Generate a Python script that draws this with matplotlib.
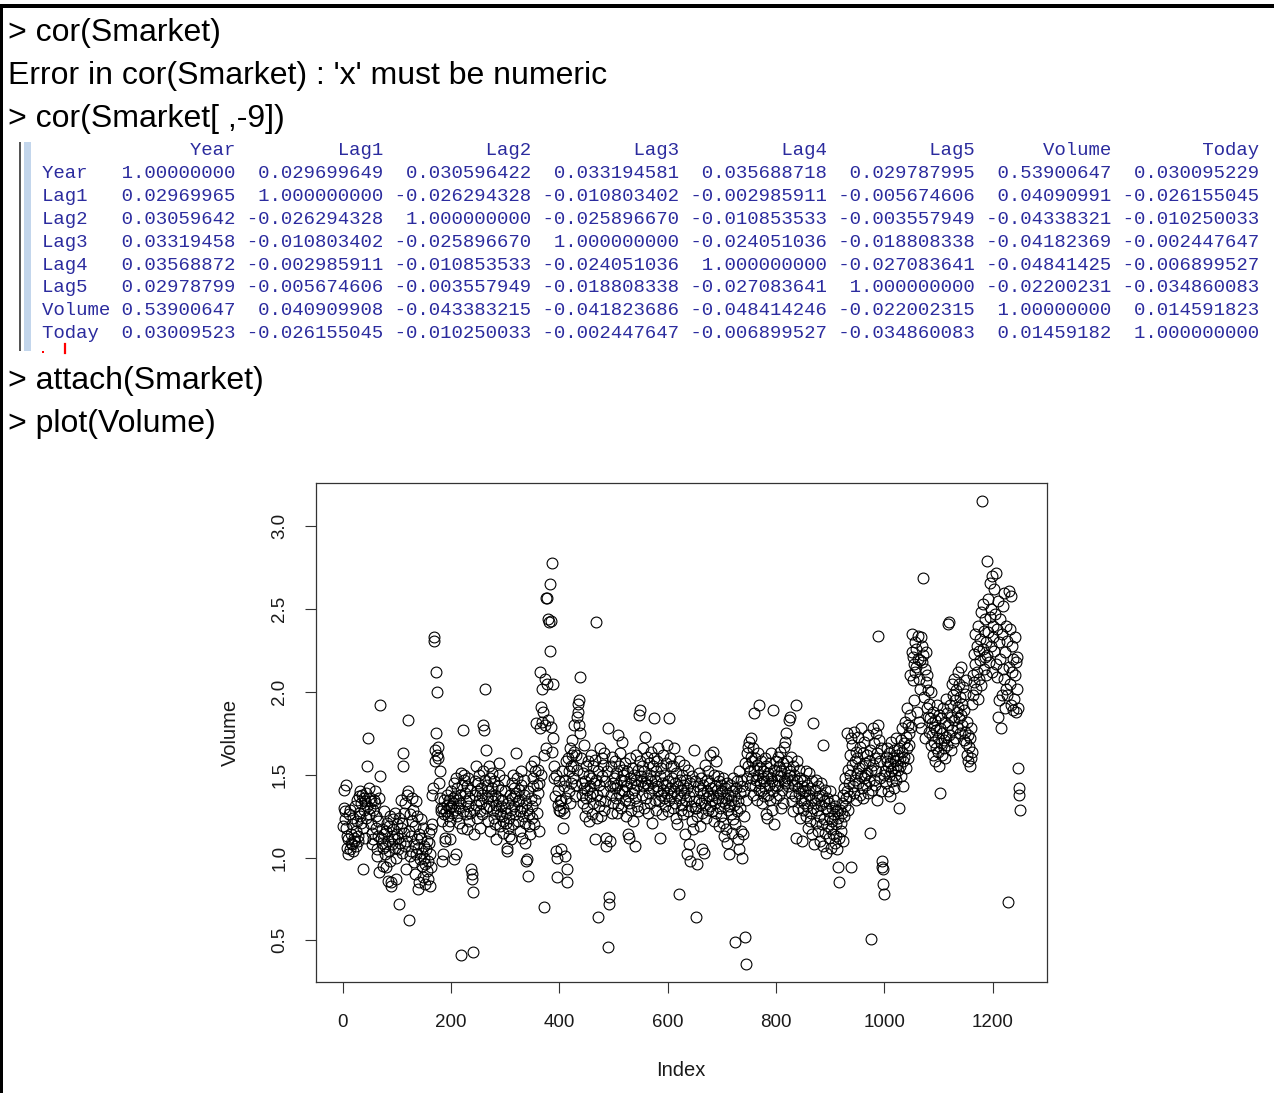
import numpy as np
import matplotlib
matplotlib.use("Agg")
import matplotlib.pyplot as plt
from matplotlib.patches import Rectangle
from matplotlib.lines import Line2D

# ---------------- data ----------------
console_lines_top = ["> cor(Smarket)",
                     "Error in cor(Smarket) : 'x' must be numeric",
                     "> cor(Smarket[ ,-9])"]
console_lines_bottom = ["> attach(Smarket)", "> plot(Volume)"]

var_names = ["Year", "Lag1", "Lag2", "Lag3", "Lag4", "Lag5", "Volume", "Today"]
cor_year   = [1.00000000, 0.029699649, 0.030596422, 0.033194581, 0.035688718, 0.029787995, 0.53900647, 0.030095229]
cor_lag1   = [0.02969965, 1.000000000, -0.026294328, -0.010803402, -0.002985911, -0.005674606, 0.04090991, -0.026155045]
cor_lag2   = [0.03059642, -0.026294328, 1.000000000, -0.025896670, -0.010853533, -0.003557949, -0.04338321, -0.010250033]
cor_lag3   = [0.03319458, -0.010803402, -0.025896670, 1.000000000, -0.024051036, -0.018808338, -0.04182369, -0.002447647]
cor_lag4   = [0.03568872, -0.002985911, -0.010853533, -0.024051036, 1.000000000, -0.027083641, -0.04841425, -0.006899527]
cor_lag5   = [0.02978799, -0.005674606, -0.003557949, -0.018808338, -0.027083641, 1.000000000, -0.02200231, -0.034860083]
cor_volume = [0.53900647, 0.040909908, -0.043383215, -0.041823686, -0.048414246, -0.022002315, 1.00000000, 0.014591823]
cor_today  = [0.03009523, -0.026155045, -0.010250033, -0.002447647, -0.006899527, -0.034860083, 0.01459182, 1.000000000]
cor_rows = [cor_year, cor_lag1, cor_lag2, cor_lag3, cor_lag4, cor_lag5, cor_volume, cor_today]

volume = [
1.19, 1.30, 1.41, 1.28, 1.23, 1.44, 1.18, 1.13, 1.06, 1.02, 1.11, 1.26, 1.29, 1.05, 1.09, 1.14, 1.08, 1.20, 1.24, 1.04, 1.10, 1.12, 1.31, 1.16, 1.07,
1.22, 1.35, 1.13, 1.10, 1.27, 1.37, 1.40, 1.25, 1.21, 1.33, 1.38, 1.18, 0.93, 1.29, 1.36, 1.34, 1.12, 1.24, 1.39, 1.55, 1.31, 1.72, 1.26, 1.42, 1.36,
1.30, 1.34, 1.20, 1.15, 1.08, 1.11, 1.29, 1.35, 1.33, 1.40, 1.25, 1.18, 1.05, 1.01, 1.22, 1.13, 0.91, 1.36, 1.49, 1.92, 1.12, 1.09, 1.17, 1.06, 0.95,
1.14, 1.28, 1.07, 1.02, 0.94, 1.16, 1.21, 1.10, 0.86, 1.19, 1.04, 1.25, 0.98, 0.83, 0.85, 1.13, 1.08, 1.23, 1.17, 1.11, 1.27, 1.06, 0.87, 1.00, 1.14,
1.20, 1.05, 1.12, 1.24, 0.72, 1.09, 1.18, 1.35, 1.03, 1.21, 1.63, 1.55, 1.27, 1.15, 1.33, 1.07, 0.93, 1.10, 1.38, 1.83, 1.40, 0.62, 1.16, 1.26, 1.01,
1.04, 1.13, 1.22, 1.36, 1.29, 0.97, 1.08, 1.19, 0.90, 1.02, 1.34, 1.11, 1.25, 1.06, 0.81, 1.14, 0.85, 0.99, 1.23, 1.12, 0.95, 1.03, 1.18, 0.88, 1.07,
1.00, 0.84, 0.96, 1.05, 1.10, 0.92, 0.98, 0.87, 1.09, 1.15, 0.83, 1.02, 0.94, 1.17, 1.20, 1.38, 1.42, 2.33, 2.31, 1.65, 1.58, 1.75, 2.12, 2.00, 1.62,
1.60, 1.67, 1.45, 1.52, 1.36, 1.28, 1.30, 1.22, 0.98, 1.02, 1.30, 1.35, 1.26, 1.12, 1.10, 1.28, 1.32, 1.38, 1.25, 1.19, 1.30, 1.35, 1.22, 1.11, 1.31,
1.40, 1.27, 1.36, 1.33, 1.45, 0.99, 1.29, 1.37, 1.02, 1.48, 1.25, 1.42, 1.35, 1.30, 1.21, 1.38, 1.33, 0.41, 1.51, 1.18, 1.44, 1.28, 1.77, 1.47, 1.50,
1.39, 1.26, 1.34, 1.43, 1.17, 1.31, 1.48, 1.22, 1.36, 1.41, 1.27, 0.93, 0.90, 0.87, 0.43, 0.79, 1.14, 1.29, 1.46, 1.38, 1.55, 1.32, 1.24, 1.40, 1.45,
1.35, 1.50, 1.28, 1.18, 1.33, 1.42, 1.26, 1.38, 1.80, 1.52, 1.77, 2.02, 1.47, 1.30, 1.65, 1.44, 1.36, 1.22, 1.40, 1.31, 1.55, 1.48, 1.16, 1.37, 1.42,
1.51, 1.29, 1.34, 1.24, 1.46, 1.38, 1.20, 1.32, 1.11, 1.28, 1.43, 1.36, 1.57, 1.50, 1.26, 1.19, 1.41, 1.31, 1.25, 1.35, 1.22, 1.15, 1.47, 1.30, 1.40,
1.27, 1.21, 1.06, 1.04, 1.18, 1.33, 1.24, 1.13, 1.38, 1.29, 1.11, 1.45, 1.36, 1.20, 1.50, 1.31, 1.42, 1.37, 1.26, 1.63, 1.39, 1.48, 1.34, 1.22, 1.41,
1.35, 1.16, 1.28, 1.44, 1.52, 1.30, 1.12, 1.25, 1.38, 1.47, 1.09, 1.21, 1.33, 0.98, 0.99, 1.29, 0.89, 1.40, 1.19, 1.26, 1.14, 1.55, 1.36, 1.24, 1.31,
1.48, 1.43, 1.20, 1.58, 1.35, 1.52, 1.81, 1.27, 1.44, 1.39, 1.53, 1.16, 1.45, 1.78, 2.12, 1.50, 1.91, 2.02, 1.82, 1.88, 0.70, 1.62, 2.08, 1.80, 1.66,
2.57, 2.57, 2.05, 1.83, 2.44, 2.42, 2.25, 2.65, 1.79, 2.43, 2.78, 1.64, 2.05, 1.72, 1.55, 1.48, 1.37, 1.50, 1.04, 1.00, 0.88, 1.41, 1.32, 1.29, 1.46,
1.34, 1.28, 1.05, 1.35, 1.52, 1.18, 1.30, 1.43, 1.27, 1.01, 1.47, 1.58, 1.36, 0.93, 0.85, 1.60, 1.52, 1.40, 1.66, 1.33, 1.45, 1.55, 1.62, 1.71, 1.48,
1.55, 1.64, 1.80, 1.37, 1.62, 1.44, 1.53, 1.85, 1.88, 1.93, 1.80, 1.95, 2.09, 1.75, 1.60, 1.45, 1.38, 1.51, 1.33, 1.42, 1.68, 1.25, 1.46, 1.55, 1.36,
1.41, 1.30, 1.58, 1.22, 1.50, 1.37, 1.43, 1.62, 1.48, 1.26, 1.39, 1.55, 1.33, 1.45, 1.11, 1.59, 1.47, 2.42, 1.38, 1.24, 1.52, 0.64, 1.44, 1.31, 1.66,
1.35, 1.25, 1.60, 1.49, 1.56, 1.40, 1.29, 1.63, 1.46, 1.34, 1.12, 1.07, 1.52, 1.78, 0.46, 0.72, 0.76, 1.10, 1.43, 1.38, 1.55, 1.27, 1.61, 1.45, 1.33,
1.48, 1.58, 1.42, 1.36, 1.51, 1.27, 1.44, 1.32, 1.74, 1.39, 1.55, 1.63, 1.47, 1.30, 1.41, 1.70, 1.53, 1.50, 1.40, 1.46, 1.35, 1.57, 1.25, 1.43, 1.52,
1.37, 1.14, 1.12, 1.33, 1.48, 1.60, 1.29, 1.45, 1.39, 1.54, 1.22, 1.50, 1.41, 1.07, 1.36, 1.62, 1.47, 1.31, 1.44, 1.53, 1.28, 1.86, 1.58, 1.89, 1.46,
1.49, 1.38, 1.55, 1.66, 1.43, 1.30, 1.52, 1.45, 1.73, 1.36, 1.61, 1.48, 1.27, 1.44, 1.57, 1.39, 1.50, 1.33, 1.64, 1.46, 1.21, 1.42, 1.55, 1.84, 1.60,
1.47, 1.35, 1.52, 1.29, 1.43, 1.58, 1.40, 1.66, 1.34, 1.49, 1.12, 1.38, 1.54, 1.45, 1.26, 1.62, 1.41, 1.50, 1.36, 1.31, 1.57, 1.44, 1.39, 1.68, 1.28,
1.46, 1.84, 1.35, 1.42, 1.60, 1.37, 1.55, 1.48, 1.30, 1.55, 1.40, 1.66, 1.33, 1.45, 1.24, 1.51, 1.38, 1.20, 1.43, 0.78, 1.58, 1.36, 1.47, 1.29, 1.41,
1.32, 1.50, 1.44, 1.26, 1.56, 1.39, 1.14, 1.47, 1.35, 1.02, 1.42, 1.28, 1.53, 1.08, 1.37, 1.45, 0.98, 1.31, 1.49, 1.22, 1.40, 1.17, 1.34, 1.65, 1.30,
1.46, 1.30, 0.64, 0.96, 1.25, 1.43, 1.35, 1.51, 1.19, 1.41, 1.33, 1.48, 1.27, 1.05, 1.39, 1.44, 1.03, 1.32, 1.56, 1.36, 1.24, 1.47, 1.40, 1.29, 1.52,
1.37, 1.45, 1.31, 1.62, 1.42, 1.35, 1.28, 1.64, 1.38, 1.50, 1.22, 1.43, 1.33, 1.58, 1.27, 1.41, 1.36, 1.49, 1.19, 1.46, 1.30, 1.39, 1.25, 1.44, 1.34,
1.40, 1.21, 1.48, 1.13, 1.33, 1.42, 1.17, 1.36, 1.09, 1.45, 1.29, 1.38, 1.02, 1.31, 1.44, 1.26, 1.35, 1.15, 1.40, 1.23, 1.48, 1.32, 1.37, 0.49, 1.20,
1.42, 1.28, 1.46, 1.11, 1.34, 1.52, 1.05, 1.39, 1.30, 1.47, 1.16, 1.43, 1.00, 1.14, 1.25, 1.40, 1.57, 0.52, 0.36, 1.35, 1.63, 1.48, 1.67, 1.55, 1.70,
1.44, 1.52, 1.61, 1.72, 1.48, 1.58, 1.38, 1.66, 1.53, 1.87, 1.43, 1.60, 1.47, 1.56, 1.35, 1.50, 1.63, 1.92, 1.41, 1.54, 1.45, 1.40, 1.58, 1.33, 1.48,
1.52, 1.37, 1.46, 1.60, 1.42, 1.26, 1.55, 1.49, 1.24, 1.38, 1.51, 1.44, 1.57, 1.35, 1.48, 1.63, 1.29, 1.46, 1.40, 1.89, 1.53, 1.20, 1.44, 1.58, 1.36,
1.50, 1.43, 1.61, 1.47, 1.55, 1.38, 1.64, 1.49, 1.30, 1.52, 1.41, 1.57, 1.33, 1.46, 1.67, 1.45, 1.70, 1.54, 1.75, 1.48, 1.58, 1.43, 1.83, 1.50, 1.85,
1.52, 1.39, 1.61, 1.47, 1.34, 1.55, 1.28, 1.44, 1.50, 1.37, 1.92, 1.12, 1.46, 1.58, 1.42, 1.30, 1.53, 1.39, 1.24, 1.48, 1.35, 1.10, 1.43, 1.29, 1.40,
1.47, 1.33, 1.40, 1.36, 1.25, 1.52, 1.44, 1.31, 1.18, 1.38, 1.51, 1.22, 1.42, 1.35, 1.27, 1.46, 1.14, 1.81, 1.30, 1.08, 1.41, 1.33, 1.21, 1.47, 1.36,
1.29, 1.43, 1.16, 1.37, 1.25, 1.10, 1.32, 1.45, 1.20, 1.38, 1.68, 1.07, 1.34, 1.23, 1.41, 1.15, 1.30, 1.03, 1.36, 1.19, 1.28, 1.12, 1.33, 1.24, 1.40,
1.17, 1.06, 1.30, 1.22, 1.14, 1.35, 1.26, 1.09, 1.31, 1.20, 1.13, 1.05, 1.28, 0.94, 1.24, 0.85, 1.12, 1.29, 1.21, 1.16, 1.33, 1.27, 1.10, 1.38, 1.25,
1.42, 1.31, 1.48, 1.36, 1.75, 1.40, 1.53, 1.29, 1.45, 1.37, 1.62, 1.50, 1.72, 0.94, 1.56, 1.68, 1.43, 1.76, 1.39, 1.58, 1.47, 1.64, 1.35, 1.51, 1.60,
1.45, 1.73, 1.54, 1.38, 1.67, 1.49, 1.78, 1.42, 1.55, 1.63, 1.36, 1.70, 1.48, 1.50, 1.57, 1.44, 1.62, 1.51, 1.39, 1.74, 1.46, 1.58, 1.65, 1.15, 0.51,
1.53, 1.41, 1.78, 1.56, 1.47, 1.69, 1.60, 1.44, 1.75, 1.52, 1.63, 1.35, 1.80, 2.34, 1.71, 1.48, 1.58, 1.40, 1.66, 0.98, 0.94, 0.93, 0.84, 0.78, 1.50,
1.52, 1.61, 1.45, 1.58, 1.66, 1.40, 1.55, 1.49, 1.63, 1.37, 1.57, 1.52, 1.70, 1.46, 1.60, 1.54, 1.42, 1.65, 1.58, 1.50, 1.72, 1.47, 1.62, 1.56, 1.53,
1.66, 1.30, 1.60, 1.55, 1.71, 1.49, 1.64, 1.78, 1.58, 1.43, 1.69, 1.61, 1.82, 1.54, 1.73, 1.66, 1.90, 1.60, 1.80, 1.75, 1.68, 1.86, 2.10, 1.79, 2.24,
2.35, 2.07, 2.21, 2.17, 1.95, 2.12, 2.30, 2.26, 2.15, 1.88, 2.20, 2.34, 2.08, 1.82, 2.19, 2.02, 2.33, 1.78, 2.18, 2.28, 2.69, 2.22, 1.97, 2.14, 1.72,
2.06, 2.24, 1.90, 2.10, 1.85, 2.01, 1.76, 1.93, 1.84, 2.00, 1.68, 1.81, 1.74, 1.88, 1.62, 1.79, 1.70, 1.83, 1.58, 1.77, 1.66, 1.92, 1.72, 1.64, 1.86,
1.55, 1.39, 1.78, 1.69, 1.84, 1.62, 1.75, 1.90, 1.71, 1.66, 1.82, 1.60, 1.96, 1.73, 1.87, 1.68, 2.41, 1.80, 2.42, 1.74, 1.92, 1.65, 1.85, 2.05, 1.77,
1.98, 1.70, 2.08, 1.83, 1.95, 1.72, 2.01, 1.88, 1.79, 2.12, 1.91, 1.84, 2.05, 1.75, 1.97, 1.86, 2.15, 1.93, 1.80, 2.03, 1.71, 1.89, 1.99, 1.76, 2.07,
1.69, 1.82, 1.62, 1.74, 1.58, 1.67, 1.55, 1.72, 1.60, 1.78, 1.64, 1.93, 2.10, 1.98, 2.23, 2.06, 2.35, 2.17, 2.02, 2.28, 2.12, 2.40, 1.96, 2.25, 2.08,
2.32, 2.19, 2.48, 2.04, 3.15, 2.26, 2.53, 2.14, 2.37, 2.21, 2.44, 2.10, 2.30, 2.79, 2.22, 2.56, 2.36, 2.18, 2.45, 2.66, 2.28, 2.50, 2.12, 2.70, 2.33,
2.40, 2.62, 2.25, 2.47, 2.72, 2.17, 2.38, 2.09, 1.85, 2.55, 2.30, 1.95, 2.44, 2.20, 1.78, 2.35, 1.98, 2.52, 2.14, 2.60, 2.08, 2.24, 1.90, 2.40, 2.02,
2.31, 1.98, 0.73, 2.15, 2.61, 2.05, 2.38, 1.92, 2.58, 2.12, 2.28, 1.89, 2.20, 1.96, 2.33, 2.10, 1.88, 2.18, 2.21, 2.02, 1.90, 1.54, 1.42, 1.38, 1.29,
]
x_ticks = [0, 200, 400, 600, 800, 1000, 1200]
y_ticks = [0.5, 1.0, 1.5, 2.0, 2.5, 3.0]
x_label = "Index"
y_label = "Volume"

# ---------------- figure ----------------
W, H = 1274, 1093
fig = plt.figure(figsize=(W / 100, H / 100), dpi=100)
fig.patch.set_facecolor("white")

def fx(px):
    return px / W

def fy(py):
    return 1 - py / H

SANS = ["Liberation Sans", "DejaVu Sans"]
MONO = ["Liberation Mono", "DejaVu Sans Mono"]

# frame borders (screenshot edges)
fig.add_artist(Rectangle((0, fy(7.5)), 1, 4 / H, transform=fig.transFigure,
                         facecolor="black", edgecolor="none"))
fig.add_artist(Rectangle((0, 0), fx(2.5), fy(4), transform=fig.transFigure,
                         facecolor="black", edgecolor="none"))

# console text
for i, s in enumerate(console_lines_top):
    fig.text(fx(8), fy(41 + 43 * i), s, family=SANS, fontsize=23,
             color="black", va="baseline", ha="left")
for i, s in enumerate(console_lines_bottom):
    fig.text(fx(8), fy(389 + 43 * i), s, family=SANS, fontsize=23,
             color="black", va="baseline", ha="left")

# output gutter
fig.add_artist(Rectangle((fx(19), fy(351)), fx(2), (351 - 142) / H,
                         transform=fig.transFigure, facecolor="#555555", edgecolor="none"))
fig.add_artist(Rectangle((fx(24), fy(351)), fx(7.5), (351 - 142) / H,
                         transform=fig.transFigure, facecolor="#c3d6ec", edgecolor="none"))
fig.add_artist(Line2D([fx(64.5), fx(64.5)], [fy(344), fy(353)], transform=fig.transFigure,
                      color="red", lw=1.6))
fig.add_artist(Rectangle((fx(42), fy(353)), fx(2), 2 / H, transform=fig.transFigure,
                         facecolor="red", edgecolor="none"))

# correlation table
widths = [10, 12, 12, 12, 12, 12, 11, 12]
decs = [8, 9, 9, 9, 9, 9, 8, 9]
header = " " * 6 + "".join(" " + f"{n:>{w}}" for n, w in zip(var_names, widths))
rows = [header]
for name, vals in zip(var_names, cor_rows):
    rows.append(f"{name:<6}" + "".join(" " + f"{v:>{w}.{d}f}" for v, w, d in zip(vals, widths, decs)))
for i, r in enumerate(rows):
    fig.text(fx(42), fy(155 + 22.9 * i), r, family=MONO, fontsize=13.7,
             color="#2b2b9e", va="baseline", ha="left")

# scatter plot
ax = fig.add_axes([fx(316), fy(982), (1047 - 316) / W, (982 - 483) / H])
idx = np.arange(1, len(volume) + 1)
ax.plot(idx, volume, linestyle="none", marker="o", markersize=7.8,
        markerfacecolor="none", markeredgecolor="black", markeredgewidth=0.8)

xr = idx.max() - idx.min()
yr = max(volume) - min(volume)
ax.set_xlim(idx.min() - 0.04 * xr, idx.max() + 0.04 * xr)
ax.set_ylim(min(volume) - 0.04 * yr, max(volume) + 0.04 * yr)
ax.set_xticks(x_ticks)
ax.set_xticklabels([str(t) for t in x_ticks], family=SANS, fontsize=13.5, color="#1a1a1a")
ax.set_yticks(y_ticks)
ax.set_yticklabels([f"{t:.1f}" for t in y_ticks], family=SANS, fontsize=13.5,
                   color="#1a1a1a", rotation=90, va="center")
ax.tick_params(direction="out", length=8, width=0.8, color="#333333")
ax.tick_params(axis="x", pad=15)
ax.tick_params(axis="y", pad=12)
for sp in ax.spines.values():
    sp.set_linewidth(0.9)
    sp.set_color("#333333")

fig.text(fx(681), fy(1070), x_label, family=SANS, fontsize=14.5, color="#1a1a1a",
         ha="center", va="center")
fig.text(fx(230), fy(732), y_label, family=SANS, fontsize=14.5, color="#1a1a1a",
         ha="center", va="center", rotation=90)

fig.savefig("out.png", dpi=100, facecolor="white")
